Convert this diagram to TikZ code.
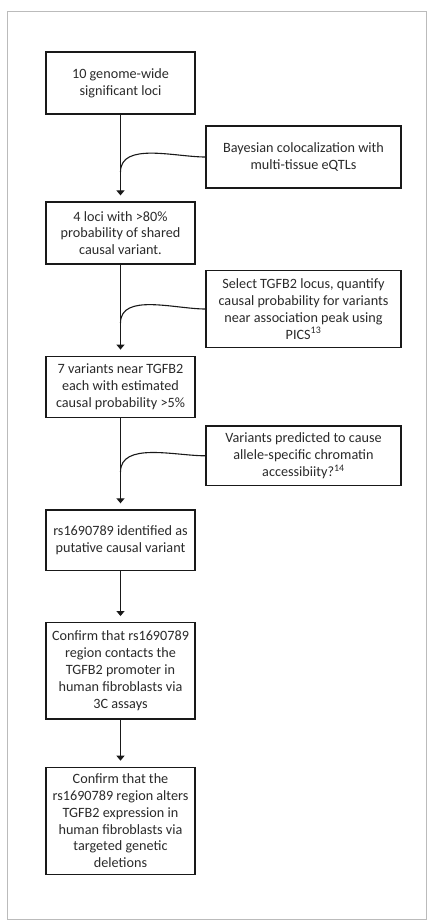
\documentclass[tikz,border=0pt]{standalone}
\usepackage{fontspec}
\setmainfont{Carlito}
\usetikzlibrary{arrows.meta}
\definecolor{txt}{HTML}{2A2A2A}
\definecolor{frame}{HTML}{BBBBBB}
\begin{document}
\begin{tikzpicture}[x=1pt,y=1pt,
  box/.style={draw=black!90,line width=1.2pt,align=center,text=txt,
    font=\fontsize{14.2}{16.8}\selectfont,inner sep=0pt,minimum width=149pt},
  rbox/.style={box,minimum width=195pt},
  conn/.style={line width=1.1pt,draw=black!90},
  arr/.style={conn,-{Triangle[width=8pt,length=5pt]},shorten >=6pt}]
\useasboundingbox (0,0) rectangle (432,-924);
\draw[frame,line width=0.9pt] (7,-11) rectangle (426,-919);
\node[box,minimum height=62pt] (b1) at (120.5,-83) {10 genome-wide\\significant loci};
\node[box,minimum height=62pt] (b2) at (120.5,-233) {4 loci with >80\%\\probability of shared\\causal variant.};
\node[box,minimum height=61pt] (b3) at (120.5,-386.7) {7 variants near TGFB2\\each with estimated\\causal probability >5\%};
\node[box,minimum height=60.7pt] (b4) at (120.5,-540.3) {rs1690789 identified as\\putative causal variant};
\node[box,minimum height=96.3pt] (b5) at (120.5,-670.8) {Confirm that rs1690789\\region contacts the\\TGFB2 promoter in\\human fibroblasts via\\3C assays};
\node[box,minimum height=107pt] (b6) at (120.5,-820.8) {Confirm that the\\rs1690789 region alters\\TGFB2 expression in\\human fibroblasts via\\targeted genetic\\deletions};
\node[rbox,minimum height=62pt] (r1) at (303.5,-157) {Bayesian colocalization with\\multi-tissue eQTLs};
\node[rbox,minimum height=77.7pt] (r2) at (303.5,-309) {Select TGFB2 locus, quantify\\causal probability for variants\\near association peak using\\PICS\textsuperscript{13}};
\node[rbox,minimum height=59.7pt] (r3) at (303.5,-455.8) {Variants predicted to cause\\allele-specific chromatin\\accessibiity?\textsuperscript{14}};
\coordinate (m1) at (120.5,-172);
\coordinate (m2) at (120.5,-323);
\coordinate (m3) at (120.5,-472);
\draw[arr] (b1.south) -- (b2.north);
\draw[arr] (b2.south) -- (b3.north);
\draw[arr] (b3.south) -- (b4.north);
\draw[arr] (b4.south) -- (b5.north);
\draw[arr] (b5.south) -- (b6.north);
\draw[conn] (r1.west) to[out=180,in=90,looseness=0.9] (m1);
\draw[conn] (r2.west) to[out=180,in=90,looseness=0.9] (m2);
\draw[conn] (r3.west) to[out=180,in=90,looseness=0.9] (m3);
\end{tikzpicture}
\end{document}
